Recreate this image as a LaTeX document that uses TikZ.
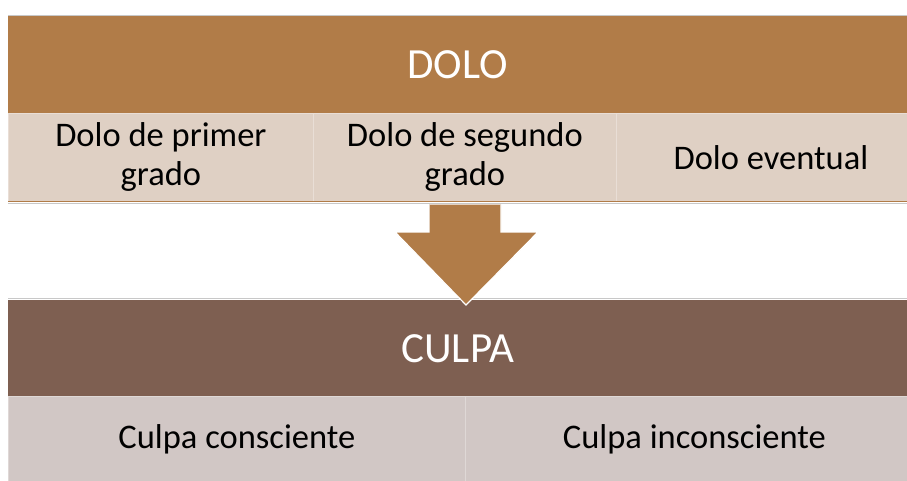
\documentclass[tikz,border=0pt]{standalone}
\usepackage{fontspec}
\setmainfont{Carlito}
\definecolor{dolo}{HTML}{B17C48}
\definecolor{dololight}{HTML}{DFD0C4}
\definecolor{culpa}{HTML}{7E5F51}
\definecolor{culpalight}{HTML}{D1C7C5}
\definecolor{sepline}{HTML}{C8C8C8}
\tikzset{
  band/.style={anchor=north west, inner sep=0pt, text=white, font=\fontsize{43}{50}\selectfont},
  subbox/.style={anchor=north west, inner sep=0pt, align=center, text=black, font=\fontsize{34.5}{39}\selectfont},
  dolosub/.style={subbox, fill=dololight, draw=white!30!dololight, line width=0.8pt, minimum height=88pt},
  culpasub/.style={subbox, fill=culpalight, draw=white!30!culpalight, line width=0.8pt, minimum height=86pt},
  blockarrow/.style={fill=dolo, draw=none},
  arrowedge/.style={draw=white, line width=1.2pt, line join=miter},
  thinrule/.style={draw=sepline, line width=0.9pt}
}
\begin{document}
\begin{tikzpicture}[x=1pt, y=-1pt]
\useasboundingbox[fill=white] (0,0) rectangle (907,480);
% DOLO header
\node[band, fill=dolo, minimum width=899pt, minimum height=97pt] (dolo) at (8,16) {DOLO};
\draw[thinrule] (8,15) -- (907,15);
% Dolo sub-boxes
\node[dolosub, minimum width=305pt] (d1) at (8,113) {Dolo de primer\\grado};
\node[dolosub, minimum width=303pt] (d2) at (313,113) {Dolo de segundo\\grado};
\node[dolosub, minimum width=309pt] (d3) at (616,113) {Dolo eventual};
\draw[dolo, line width=1.6pt] (8,201.5) -- (907,201.5);
\draw[thinrule] (8,203.5) -- (907,203.5);
% CULPA header
\draw[thinrule] (8,298) -- (907,298);
\node[band, fill=culpa, minimum width=899pt, minimum height=96pt] (culpa) at (8,300) {CULPA};
% Culpa sub-boxes
\node[culpasub, minimum width=457pt] (c1) at (8,396) {Culpa consciente};
\node[culpasub, minimum width=458pt] (c2) at (465,396) {Culpa inconsciente};
% block arrow from Dolo to Culpa
\coordinate (atl) at (429,204.5);
\coordinate (atr) at (501,204.5);
\coordinate (asr) at (501,232);
\coordinate (ahr) at (538,232);
\coordinate (tip) at (466,305);
\coordinate (ahl) at (395,232);
\coordinate (asl) at (429,232);
\fill[blockarrow] (atl) -- (atr) -- (asr) -- (ahr) -- (tip) -- (ahl) -- (asl) -- cycle;
\draw[arrowedge] (atr) -- (asr) -- (ahr) -- (tip) -- (ahl) -- (asl) -- (atl);
\end{tikzpicture}
\end{document}
